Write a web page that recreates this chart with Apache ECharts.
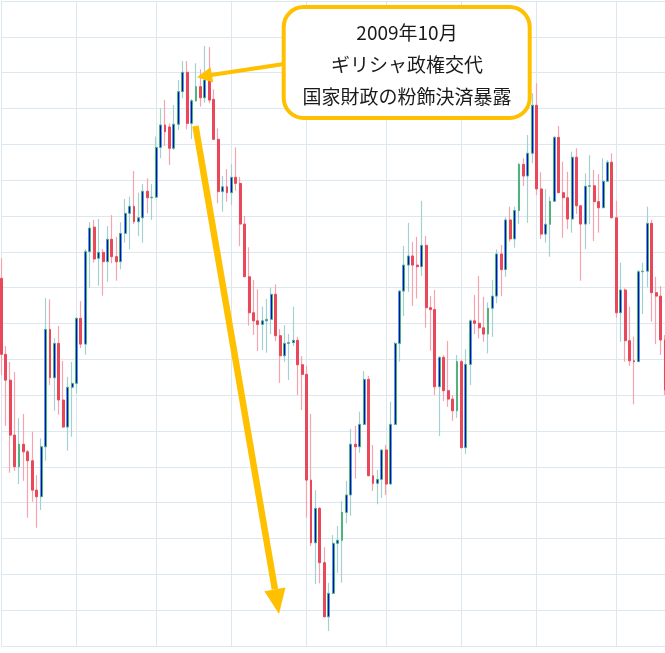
<!DOCTYPE html>
<html><head><meta charset="utf-8">
<script src="https://cdn.jsdelivr.net/npm/echarts@6/dist/echarts.min.js"></script>
<style>html,body{margin:0;padding:0;background:#fff;overflow:hidden}#c{width:665px;height:653px}</style>
</head><body><div id="c"></div><script>
// EUR/USD weekly candles (Jan 2009 - Dec 2011)
const openPrices = [
1.3852,1.3428,1.3284,1.2977,1.2801,1.2926,1.2884,1.2834,1.2670,1.2633,
1.2912,1.3567,1.3297,1.3489,1.3173,1.3022,1.3244,1.3266,1.3629,1.3485,
1.4001,1.4138,1.3964,1.3997,1.3945,1.4070,1.3973,1.3945,1.4103,1.4215,
1.4254,1.4168,1.4190,1.4338,1.4302,1.4305,1.4583,1.4708,1.4697,1.4578,
1.4712,1.4894,1.5002,1.4717,1.4843,1.4922,1.4860,1.4959,1.4851,1.4628,
1.4336,1.4363,1.4330,1.4416,1.4382,1.4155,1.3861,1.3660,1.3615,1.3595,
1.3615,1.3623,1.3763,1.3532,1.3420,1.3489,1.3493,1.3506,1.3370,1.3316,
1.2726,1.2376,1.2568,1.2265,1.1963,1.2094,1.2373,1.2390,1.2546,1.2643,
1.2926,1.2912,1.3037,1.3288,1.2750,1.2708,1.2730,1.2894,1.2704,1.3037,
1.3489,1.3781,1.3926,1.3977,1.3926,1.3917,1.4036,1.3688,1.3678,1.3247,
1.3411,1.3225,1.3178,1.3113,1.3387,1.2907,1.3372,1.3615,1.3601,1.3576,
1.3541,1.3685,1.3753,1.3988,1.3901,1.4178,1.4072,1.4231,1.4488,1.4423,
1.4550,1.4818,1.4351,1.4099,1.4154,1.4282,1.4639,1.4330,1.4302,1.4183,
1.4528,1.4257,1.4155,1.4366,1.4369,1.4280,1.4246,1.4394,1.4500,1.4190,
1.3660,1.3787,1.3504,1.3392,1.3387,1.3889,1.3892,1.4159,1.3772,1.3753,
1.3508];
const closePrices = [
1.3428,1.3284,1.2977,1.2801,1.2926,1.2884,1.2834,1.2670,1.2633,1.2912,
1.3567,1.3297,1.3489,1.3173,1.3022,1.3244,1.3266,1.3629,1.3485,1.4001,
1.4133,1.3960,1.3997,1.3945,1.4070,1.3973,1.3945,1.4103,1.4215,1.4254,
1.4168,1.4190,1.4338,1.4302,1.4305,1.4583,1.4708,1.4670,1.4578,1.4712,
1.4894,1.5002,1.4717,1.4843,1.4922,1.4860,1.4959,1.4847,1.4628,1.4336,
1.4363,1.4330,1.4416,1.4382,1.4155,1.3861,1.3660,1.3615,1.3595,1.3615,
1.3623,1.3763,1.3532,1.3420,1.3489,1.3493,1.3506,1.3370,1.3316,1.2726,
1.2376,1.2568,1.2265,1.1963,1.2094,1.2373,1.2390,1.2546,1.2643,1.2926,
1.2912,1.3037,1.3288,1.2750,1.2708,1.2730,1.2894,1.2704,1.3037,1.3489,
1.3781,1.3926,1.3977,1.3926,1.3917,1.4036,1.3688,1.3678,1.3247,1.3411,
1.3225,1.3178,1.3113,1.3387,1.2907,1.3372,1.3615,1.3601,1.3576,1.3541,
1.3685,1.3753,1.3988,1.3901,1.4178,1.4072,1.4231,1.4488,1.4423,1.4550,
1.4818,1.4351,1.4099,1.4154,1.4282,1.4639,1.4330,1.4302,1.4183,1.4528,
1.4257,1.4155,1.4366,1.4369,1.4280,1.4246,1.4394,1.4500,1.4190,1.3660,
1.3787,1.3504,1.3392,1.3387,1.3889,1.3892,1.4159,1.3772,1.3753,1.3508,
1.3229];
const highPrices = [
1.3964,1.3474,1.3385,1.3329,1.3072,1.3095,1.2894,1.2996,1.2754,1.2959,
1.3741,1.3735,1.3517,1.3586,1.3391,1.3303,1.3385,1.3636,1.3725,1.4016,
1.4166,1.4178,1.4183,1.4016,1.4144,1.4205,1.4084,1.4165,1.4295,1.4308,
1.4451,1.4330,1.4379,1.4410,1.4379,1.4643,1.4801,1.4847,1.4717,1.4819,
1.4959,1.5065,1.5065,1.4853,1.5052,1.5019,1.5149,1.5143,1.4907,1.4689,
1.4423,1.4462,1.4490,1.4583,1.4419,1.4200,1.4025,1.3843,1.3791,1.3694,
1.3737,1.3800,1.3819,1.3569,1.3591,1.3541,1.3694,1.3526,1.3418,1.3363,
1.3095,1.2670,1.2576,1.2351,1.2153,1.2419,1.2470,1.2609,1.2721,1.3011,
1.3028,1.3108,1.3335,1.3307,1.2922,1.2782,1.2898,1.2922,1.3163,1.3498,
1.3787,1.4034,1.4162,1.4056,1.4084,1.4284,1.4088,1.3753,1.3787,1.3418,
1.3424,1.3502,1.3201,1.3424,1.3396,1.3456,1.3623,1.3759,1.3865,1.3749,
1.3718,1.3843,1.4014,1.4038,1.4193,1.4252,1.4252,1.4496,1.4522,1.4652,
1.4885,1.4941,1.4444,1.4351,1.4308,1.4646,1.4702,1.4503,1.4447,1.4559,
1.4578,1.4261,1.4438,1.4540,1.4457,1.4434,1.4522,1.4512,1.4550,1.4285,
1.3939,1.3796,1.3694,1.3526,1.3898,1.3939,1.4252,1.4178,1.3861,1.3809,
1.3536];
const lowPrices = [
1.3312,1.3029,1.2767,1.2778,1.2704,1.2722,1.2516,1.2605,1.2460,1.2559,
1.2834,1.3257,1.3113,1.3091,1.3018,1.2890,1.2968,1.3210,1.3463,1.3426,
1.3800,1.3939,1.3811,1.3755,1.3833,1.3936,1.3839,1.3902,1.4051,1.4014,
1.4155,1.4088,1.4051,1.4215,1.4178,1.4300,1.4522,1.4591,1.4485,1.4568,
1.4680,1.4857,1.4684,1.4630,1.4838,1.4810,1.4832,1.4829,1.4624,1.4271,
1.4224,1.4280,1.4261,1.4341,1.4032,1.3859,1.3588,1.3536,1.3446,1.3452,
1.3437,1.3541,1.3502,1.3269,1.3387,1.3284,1.3474,1.3201,1.3117,1.2516,
1.2358,1.2146,1.2150,1.1960,1.1883,1.2090,1.2209,1.2153,1.2485,1.2527,
1.2734,1.2879,1.3033,1.2749,1.2665,1.2591,1.2627,1.2643,1.2701,1.3033,
1.3387,1.3642,1.3777,1.3698,1.3739,1.3865,1.3576,1.3448,1.3201,1.2972,
1.3167,1.3135,1.3057,1.3074,1.2902,1.2871,1.3257,1.3541,1.3517,1.3498,
1.3433,1.3526,1.3713,1.3753,1.3861,1.4056,1.4023,1.4155,1.4367,1.4162,
1.4494,1.4317,1.4072,1.4051,1.3973,1.4278,1.4328,1.4079,1.4127,1.4107,
1.4211,1.3839,1.4016,1.4154,1.4060,1.4107,1.4244,1.4390,1.4189,1.3632,
1.3498,1.3387,1.3363,1.3149,1.3385,1.3653,1.3802,1.3610,1.3485,1.3424,
1.3201];
// weeks (index) where a new 4-month period (Jan / May / Sep) starts -> vertical grid lines
const periodStartWeeks = [0, 17, 35, 52, 69, 87, 104, 121, 139];
// price grid
const priceMin = 1.18, priceMax = 1.54, priceStep = 0.02;
// annotation text
const noteLines = ['2009年10月', 'ギリシャ政権交代', '国家財政の粉飾決済暴露'];

const weekLabels = openPrices.map((_, i) => {
  const d = new Date(Date.UTC(2008, 11, 29 + 7 * i));
  return d.toISOString().slice(0, 10);
});
const fullData = openPrices.map((o, i) => [o, closePrices[i], lowPrices[i], highPrices[i]]);
const bodyData = openPrices.map((o, i) => [o, closePrices[i], Math.min(o, closePrices[i]), Math.max(o, closePrices[i])]);

const gridColor = '#dde7ef';
const orange = '#FFC000';
const chart = echarts.init(document.getElementById('c'), null, {renderer: 'canvas'});
chart.setOption({
  animation: false,
  backgroundColor: '#ffffff',
  grid: {left: 1.3, right: -0.8, top: 1, bottom: 7},
  xAxis: {
    type: 'category', data: weekLabels, boundaryGap: false,
    axisLine: {show: false}, axisTick: {show: false}, axisLabel: {show: false},
    splitLine: {show: true, interval: (idx) => periodStartWeeks.includes(idx),
      lineStyle: {color: gridColor, width: 1}}
  },
  yAxis: {
    type: 'value', min: priceMin, max: priceMax, interval: priceStep,
    axisLine: {show: false}, axisTick: {show: false}, axisLabel: {show: false},
    splitLine: {show: true, lineStyle: {color: gridColor, width: 1}}
  },
  series: [
    {
      name: 'wick', type: 'candlestick', data: fullData, barWidth: 1, clip: false,
      itemStyle: {color: '#a6cfd2', color0: '#f4a4ae', borderColor: '#a6cfd2', borderColor0: '#f4a4ae', borderWidth: 1.2}
    },
    {
      name: 'body', type: 'candlestick', data: bodyData, barWidth: 2.4, clip: false,
      itemStyle: {color: '#0000ff', color0: '#e8485a', borderColor: '#52b27c', borderColor0: '#e8485a', borderWidth: 1}
    }
  ],
  graphic: [
    // long arrow (down)
    {type: 'line', shape: {x1: 195.5, y1: 126, x2: 274.9, y2: 589.3}, style: {stroke: orange, lineWidth: 6.5}, z: 100},
    {type: 'polygon', shape: {points: [[279, 614], [285.5, 587.4], [264.4, 591.2]]}, style: {fill: orange}, z: 100},
    // short arrow to the peak
    {type: 'line', shape: {x1: 284, y1: 64, x2: 211, y2: 75}, style: {stroke: orange, lineWidth: 4}, z: 100},
    {type: 'polygon', shape: {points: [[197, 77.2], [213.2, 82.5], [210.6, 67.3]]}, style: {fill: orange}, z: 100},
    // note box
    {type: 'rect', shape: {x: 283.7, y: 7, width: 246, height: 111, r: 20},
      style: {fill: '#ffffff', stroke: orange, lineWidth: 4}, z: 101},
    {type: 'text', x: 407, y: 33, z: 102, style: {text: noteLines[0], fill: '#1a1a1a', font: '19px "Noto Sans CJK JP"', align: 'center', verticalAlign: 'middle'}},
    {type: 'text', x: 407, y: 65, z: 102, style: {text: noteLines[1], fill: '#1a1a1a', font: '19px "Noto Sans CJK JP"', align: 'center', verticalAlign: 'middle'}},
    {type: 'text', x: 407, y: 97, z: 102, style: {text: noteLines[2], fill: '#1a1a1a', font: '19px "Noto Sans CJK JP"', align: 'center', verticalAlign: 'middle'}}
  ]
});
</script></body></html>
